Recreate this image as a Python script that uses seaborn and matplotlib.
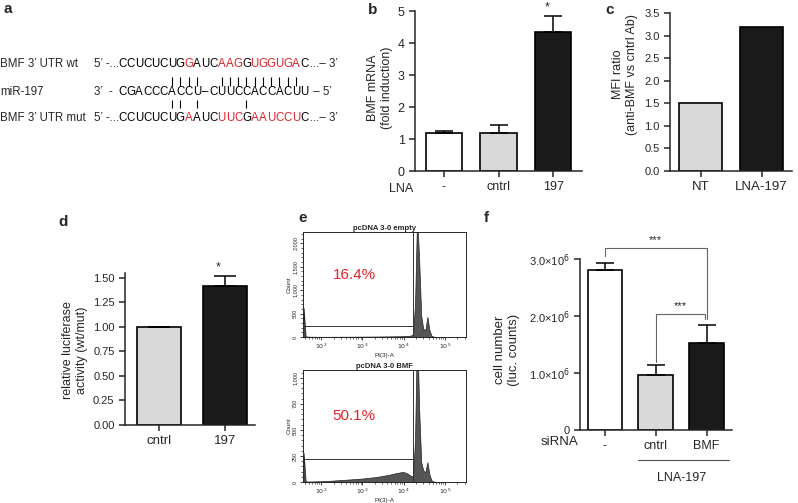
import numpy as np
import pandas as pd
import seaborn as sns
import matplotlib.pyplot as plt
from matplotlib.ticker import MultipleLocator, FixedLocator

# ---- data ----
# panel a: sequences (mask: 1 = red letter)
row_labels = ["BMF 3\u2019 UTR wt", "miR-197", "BMF 3\u2019 UTR mut"]
seq_wt = "CCUCUCUGGAUCAAGGUGGUGAC"
seq_mir = "CGACCCACCU\u2013CUUCCACCACUU"
seq_mut = "CCUCUCUGAAUCUUCGAAUCCUC"
mask_wt = "00000000100011101111110"
mask_mut = "00000000100011101111110"
pairs_wt = [6, 7, 8, 9, 12, 13, 14, 15, 16, 17, 18, 19, 20, 21]
pairs_mut = [6, 7, 9, 15]

# panel b
b_cats = ["-", "cntrl", "197"]
b_vals = [1.2, 1.18, 4.35]
b_errs = [0.05, 0.25, 0.5]

# panel c
c_cats = ["NT", "LNA-197"]
c_vals = [1.5, 3.2]

# panel d
d_cats = ["cntrl", "197"]
d_vals = [1.0, 1.42]
d_errs = [0.0, 0.1]

# panel e: histogram counts, bins of 0.05 log10 units starting at 10^1.55
hist_empty = [620, 12, 9, 7, 6, 6, 5, 5, 5, 4, 4,
              4, 4, 4, 5, 5, 5, 5, 6, 6, 6,
              6, 6, 7, 7, 7, 8, 8, 8, 8, 9,
              9, 9, 10, 10, 10, 11, 11, 12, 12, 13,
              13, 14, 14, 15, 16, 16, 17, 18, 20, 22,
              25, 30, 60, 700, 2600, 1650, 450, 170, 150, 430,
              140, 25, 8, 4, 2, 1, 0, 0]
hist_bmf = [280, 6, 5, 5, 5, 6, 6, 7, 7, 8, 9,
            10, 11, 12, 13, 15, 16, 17, 19, 20, 21,
            23, 24, 25, 27, 28, 30, 31, 33, 34, 37,
            38, 41, 43, 45, 48, 50, 54, 57, 61, 64,
            68, 72, 76, 81, 86, 89, 93, 96, 92, 84,
            72, 58, 55, 400, 1500, 700, 190, 110, 95, 190,
            70, 15, 5, 2, 1, 0, 0, 0]
hist_titles = ["pcDNA 3-0 empty", "pcDNA 3-0 BMF"]
hist_pct = ["16.4%", "50.1%"]
gate_x = 4.22
gate_y = [240, 222]

# panel f
f_cats = ["-", "cntrl", "BMF"]
f_vals = [2.81e6, 0.965e6, 1.53e6]
f_errs = [0.12e6, 0.18e6, 0.31e6]

WHITE, GREY, BLACK = "#ffffff", "#d9d9d9", "#1a1a1a"
RED = "#e3232a"

sns.set_style("ticks")
plt.rcParams["font.family"] = ["Liberation Sans", "DejaVu Sans"]
plt.rcParams["axes.linewidth"] = 1.1

W, H = 798, 503
fig = plt.figure(figsize=(W / 100, H / 100), dpi=100)


def px_axes(l, t, r, b):
    return fig.add_axes([l / W, 1 - b / H, (r - l) / W, (b - t) / H])


def label(x, y, s):
    fig.text(x / W, 1 - y / H, s, fontsize=11, fontweight="bold", ha="left", va="center")


def bars(ax, cats, vals, colors, width, errs=None, capsize=6.5):
    sns.barplot(x=cats, y=vals, hue=cats, palette=colors, width=width, saturation=1,
                edgecolor="black", linewidth=1.2, legend=False, ax=ax)
    if errs is not None:
        n = len(vals)
        ax.errorbar(range(n), vals, yerr=[np.zeros(n), errs], fmt="none", ecolor="black",
                    elinewidth=1.1, capsize=capsize, capthick=1.1)
    sns.despine(ax=ax)
    ax.tick_params(length=4, width=1.1)
    ax.set_xlabel("")


# ---- panel a ----
ax_a = px_axes(0, 0, 400, 160)
ax_a.set_xlim(0, 400)
ax_a.set_ylim(160, 0)
ax_a.axis("off")
x0, pitch = 122.5, 8.26
rows_y = [64, 92, 118]
for y, lab in zip(rows_y, row_labels):
    ax_a.text(0, y, lab, fontsize=8.3, va="center", ha="left")
for y, seq, mask in [(rows_y[0], seq_wt, mask_wt), (rows_y[1], seq_mir, "0" * len(seq_mir)),
                     (rows_y[2], seq_mut, mask_mut)]:
    for i, ch in enumerate(seq):
        ax_a.text(x0 + pitch * i, y, ch, fontsize=8.3, ha="center", va="center",
                  color=RED if mask[i] == "1" else "black")
ax_a.text(94, rows_y[0], "5\u2019 -...", fontsize=8.3, va="center")
ax_a.text(94, rows_y[1], "3\u2019  -", fontsize=8.3, va="center")
ax_a.text(94, rows_y[2], "5\u2019 -...", fontsize=8.3, va="center")
ax_a.text(310, rows_y[0], "...\u2013 3\u2019", fontsize=8.3, va="center")
ax_a.text(310, rows_y[1], " \u2013 5\u2019", fontsize=8.3, va="center")
ax_a.text(310, rows_y[2], "...\u2013 3\u2019", fontsize=8.3, va="center")
ax_a.vlines([x0 + pitch * i for i in pairs_wt], 77, 85.5, color="black", lw=0.8)
ax_a.vlines([x0 + pitch * i for i in pairs_mut], 100, 108, color="black", lw=0.8)

# ---- panel b ----
ax_b = px_axes(415, 11, 582, 171)
bars(ax_b, b_cats, b_vals, [WHITE, GREY, BLACK], 0.66, b_errs)
ax_b.set_xlim(-0.53, 2.53)
ax_b.set_ylim(0, 5)
ax_b.set_yticks(range(6))
ax_b.tick_params(labelsize=9)
ax_b.set_ylabel("BMF mRNA\n(fold induction)", fontsize=9)
ax_b.yaxis.set_label_coords(-0.13, 0.52)
ax_b.text(-0.01, -0.115, "LNA", transform=ax_b.transAxes, ha="right", va="center", fontsize=9)
ax_b.text(1.9, 5.12, "*", ha="center", va="center", fontsize=9, clip_on=False)

# ---- panel c ----
ax_c = px_axes(670, 13, 792, 171)
bars(ax_c, c_cats, c_vals, [GREY, BLACK], 0.7)
ax_c.set_xlim(-0.5, 1.5)
ax_c.set_ylim(0, 3.5)
ax_c.set_yticks(np.arange(0, 3.51, 0.5))
ax_c.yaxis.set_major_formatter(plt.FormatStrFormatter("%.1f"))
ax_c.tick_params(axis="y", labelsize=8)
ax_c.tick_params(axis="x", labelsize=9.5)
ax_c.set_ylabel("MFI ratio\n(anti-BMF vs cntrl Ab)", fontsize=9)
ax_c.yaxis.set_label_coords(-0.26, 0.61)

# ---- panel d ----
ax_d = px_axes(125, 273, 255, 425)
bars(ax_d, d_cats, d_vals, [GREY, BLACK], 0.67, d_errs, capsize=8)
ax_d.set_xlim(-0.515, 1.45)
ax_d.set_ylim(0, 1.55)
ax_d.set_yticks(np.arange(0, 1.51, 0.25))
ax_d.yaxis.set_major_formatter(plt.FormatStrFormatter("%.2f"))
ax_d.tick_params(axis="y", labelsize=8)
ax_d.tick_params(axis="x", labelsize=9.5)
ax_d.set_ylabel("relative luciferase\nactivity (wt/mut)", fontsize=9)
ax_d.yaxis.set_label_coords(-0.285, 0.49)
ax_d.text(0.9, 1.61, "*", ha="center", va="center", fontsize=9, clip_on=False)

# ---- panel e ----
flow_axes = [px_axes(303, 232, 466, 337), px_axes(303, 370, 466, 482)]
flow_ylim = [2240, 1075]
flow_yticks = [[0, 500, 1000, 1500, 2000], [0, 250, 500, 750, 1000]]
flow_ylabels = [["0", "500", "1,000", "1,500", "2,000"], ["0", "250", "500", "750", "1,000"]]
flow_minor = [100, 50]
for k, (ax, counts) in enumerate(zip(flow_axes, [hist_empty, hist_bmf])):
    edges = [1.55 + 0.05 * j for j in range(len(counts) + 1)]
    hist_df = pd.DataFrame({"PI": [e + 0.025 for e in edges[:-1]], "n": counts})
    sns.histplot(data=hist_df, x="PI", weights="n", bins=edges, element="poly", fill=True,
                 color="#555555", edgecolor="#222222", linewidth=0.5, alpha=1, ax=ax)
    ax.set_xlim(1.56, 5.51)
    ax.set_ylim(0, flow_ylim[k])
    ax.plot([1.56, gate_x], [gate_y[k], gate_y[k]], color="#333333", lw=0.7)
    ax.axvline(gate_x, color="#333333", lw=0.7)
    ax.set_xticks([2, 3, 4, 5])
    ax.set_xticklabels(["$10^2$", "$10^3$", "$10^4$", "$10^5$"], fontsize=4.5)
    minors = [n + np.log10(m) for n in range(1, 6) for m in range(2, 10)]
    ax.xaxis.set_minor_locator(FixedLocator(minors))
    ax.set_yticks(flow_yticks[k])
    ax.set_yticklabels(flow_ylabels[k], rotation=90, va="center", fontsize=4)
    ax.yaxis.set_minor_locator(MultipleLocator(flow_minor[k]))
    ax.tick_params(which="major", length=2.5, width=0.6, pad=1)
    ax.tick_params(which="minor", length=1.3, width=0.5)
    for sp in ax.spines.values():
        sp.set_linewidth(0.7)
    ax.set_xlabel("PI(3)-A", fontsize=4.5, labelpad=1)
    ax.set_ylabel("Count", fontsize=4.5, labelpad=1)
    ax.set_title(hist_titles[k], fontsize=5.5, fontweight="bold", pad=1.5)
    ax.text(0.315, 0.59, hist_pct[k], transform=ax.transAxes, color=RED, fontsize=11,
            ha="center", va="center")

# ---- panel f ----
ax_f = px_axes(580, 259, 732, 430)
bars(ax_f, f_cats, f_vals, [WHITE, GREY, BLACK], 0.68, f_errs)
ax_f.set_xlim(-0.49, 2.5)
ax_f.set_ylim(0, 3.0e6)
ax_f.set_yticks([0, 1e6, 2e6, 3e6])
ax_f.set_yticklabels(["0", "1.0\u00d710$^6$", "2.0\u00d710$^6$", "3.0\u00d710$^6$"])
ax_f.tick_params(axis="y", labelsize=8)
ax_f.tick_params(axis="x", labelsize=9)
ax_f.set_ylabel("cell number\n(luc. counts)", fontsize=9.5)
ax_f.yaxis.set_label_coords(-0.395, 0.47)
ax_f.text(-0.01, -0.07, "siRNA", transform=ax_f.transAxes, ha="right", va="center", fontsize=9.5)
ax_f.plot([0.65, 2.45], [-0.175, -0.175], color="#555555", lw=0.8,
          transform=ax_f.get_xaxis_transform(), clip_on=False)
ax_f.text(1.5, -0.28, "LNA-197", transform=ax_f.get_xaxis_transform(), ha="center",
          va="center", fontsize=9)
ax_f.plot([0, 0, 2, 2], [3.05e6, 3.19e6, 3.19e6, 1.95e6], color="#666666", lw=0.8, clip_on=False)
ax_f.plot([1, 1, 1.97, 1.97], [1.19e6, 2.04e6, 2.04e6, 1.95e6], color="#666666", lw=0.8, clip_on=False)
ax_f.text(1.0, 3.33e6, "***", ha="center", va="center", fontsize=8, clip_on=False)
ax_f.text(1.48, 2.17e6, "***", ha="center", va="center", fontsize=8, clip_on=False)

# ---- panel letters ----
label(3, 9, "a")
label(368, 10, "b")
label(605, 10, "c")
label(58, 222, "d")
label(298, 218, "e")
label(484, 218, "f")

fig.savefig("out.png", dpi=100)
